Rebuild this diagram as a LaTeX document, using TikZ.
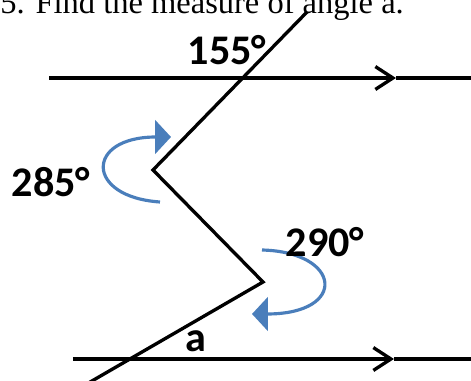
\documentclass[tikz,border=0pt]{standalone}
\usepackage{fontspec}
\setmainfont{Liberation Serif}
\newfontfamily\lblfont{Carlito}
\usetikzlibrary{positioning, arrows.meta}
\definecolor{turnblue}{HTML}{4A7EBB}

\begin{document}
\begin{tikzpicture}[
  x=0.02cm, y=-0.02cm,
  line/.style={line width=1.9pt, black},
  par/.style={line, -{Straight Barb[length=10pt, width=13pt]}},
  turn/.style={line width=1.8pt, draw=turnblue, -{Triangle[length=9pt, width=19pt]}},
  lbl/.style={anchor=base, font=\lblfont\bfseries\fontsize{24}{28}\selectfont}
]
  \useasboundingbox (0,0) rectangle (471,381);
  \clip (0,0) rectangle (471,381);

  \node[anchor=base east, font=\fontsize{18.5}{22}\selectfont] (title) at (410,13.5) {5. Find the measure of angle a.};

  \coordinate (L1) at (49,78);  \coordinate (A1) at (396,78);  \coordinate (R1) at (475,78);
  \coordinate (L2) at (73,359); \coordinate (A2) at (394,359); \coordinate (R2) at (475,359);
  \coordinate (T) at (307,12);
  \coordinate (V1) at (153,170);
  \coordinate (V2) at (263,282);
  \coordinate (B) at (85,385);

  \draw[par] (L1) -- (A1);
  \draw[line] (A1) -- (R1);
  \draw[par] (L2) -- (A2);
  \draw[line] (A2) -- (R2);
  \draw[line] (T) -- (V1) -- (V2) -- (B);

  \coordinate (s285) at (160,202); \coordinate (e285) at (171,137);
  \coordinate (s290) at (262,250); \coordinate (e290) at (252,314);
  \draw[turn] (s285) .. controls (85,197) and (85,137) .. (e285);
  \draw[turn] (s290) .. controls (342,252) and (348,314) .. (e290);

  \node[lbl] (a155) at (227,65) {155°};
  \node[lbl] (a285) at (51,197) {285°};
  \node[lbl] (a290) at (325,257) {290°};
  \node[lbl] (anga) at (196,352) {a};
\end{tikzpicture}
\end{document}
